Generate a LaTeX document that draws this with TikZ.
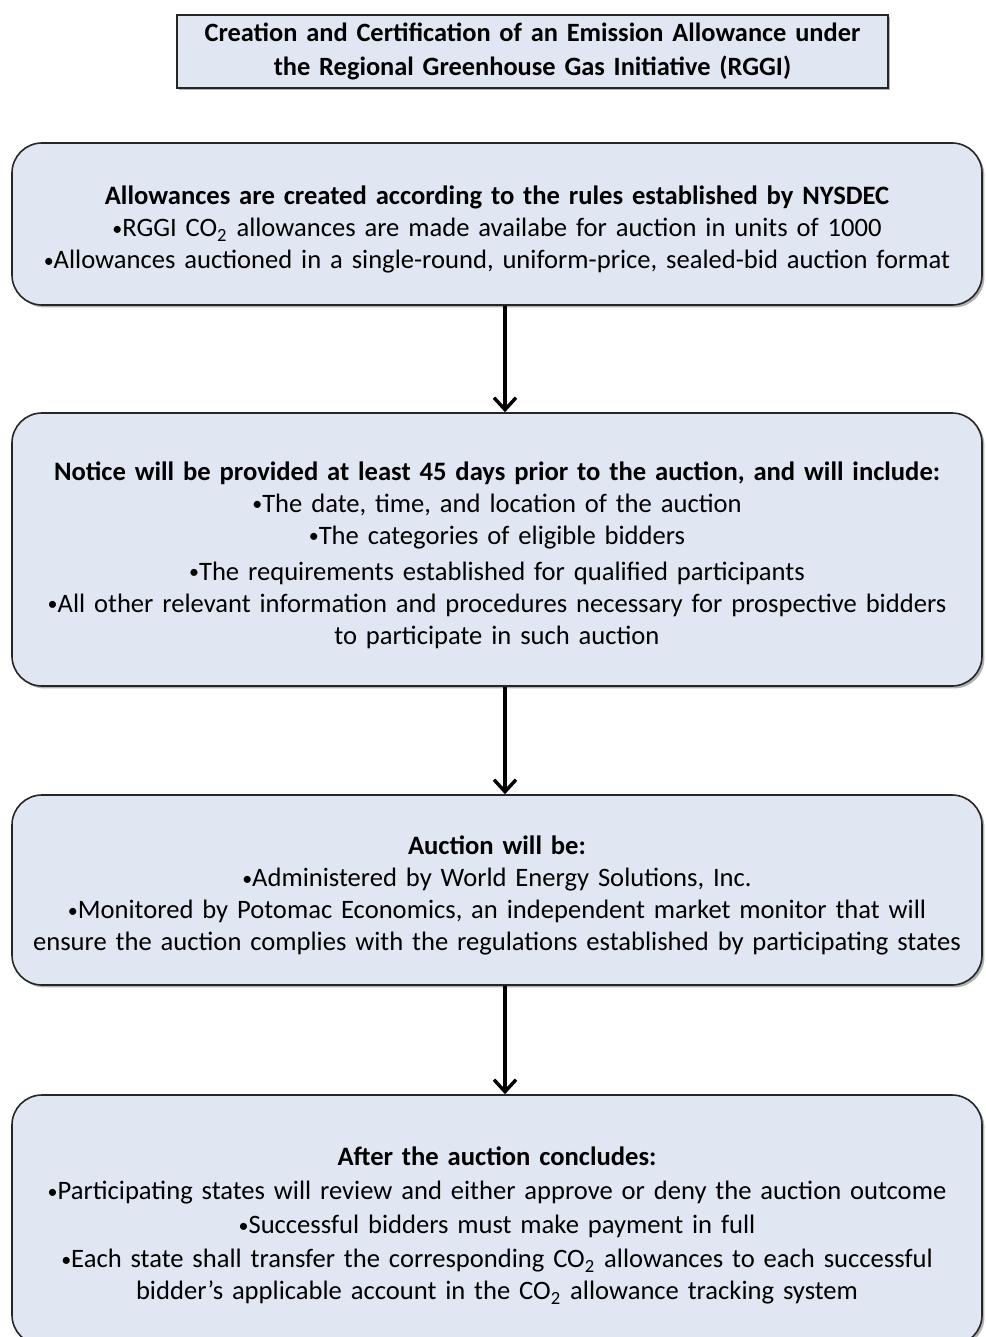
\documentclass[tikz,border=0pt]{standalone}
\usepackage{fontspec}
\setmainfont{Carlito}
\usetikzlibrary{arrows.meta,shadows}
\definecolor{boxfill}{RGB}{224,231,242}
\newcommand{\bulletmark}{\raisebox{0.12ex}{\scalebox{0.75}{•}}}

\begin{document}
\begin{tikzpicture}[x=0.5pt,y=-0.5pt,
	plain/.style={draw=black!85, line width=0.8pt, fill=boxfill, align=center, inner sep=0pt, drop shadow={shadow xshift=1.2pt, shadow yshift=-1.2pt, fill=black!60, opacity=0.5}},
	box/.style={plain, rounded corners=15pt, text width=484pt, minimum width=485pt, font=\fontsize{13.3}{16}\selectfont, execute at begin node={\rule{0pt}{15pt}}},
	titlebox/.style={plain, text width=352pt, minimum width=355.5pt, minimum height=36.5pt, font=\bfseries\fontsize{13.2}{17}\selectfont},
	arr/.style={line width=1.7pt, -{Straight Barb[length=6pt, width=11pt, line width=1.7pt]}}]
	\useasboundingbox (0,0) rectangle (985,1337);
	\node[titlebox] (title) at (532.5,51.5) {Creation and Certification of an Emission Allowance under\\ the Regional Greenhouse Gas Initiative (RGGI)};
	\node[box, minimum height=81pt] (create) at (497,224) {\textbf{Allowances are created according to the rules established by NYSDEC}\\
		\bulletmark RGGI CO\textsubscript{2} allowances are made availabe for auction in units of 1000\\
		\bulletmark Allowances auctioned in a single-round, uniform-price, sealed-bid auction format};
	\node[box, minimum height=136.5pt] (notice) at (497,549.5) {\textbf{Notice will be provided at least 45 days prior to the auction, and will include:}\\
		\bulletmark The date, time, and location of the auction\\
		\bulletmark The categories of eligible bidders\\[2pt]
		\bulletmark The requirements established for qualified participants\\
		\bulletmark All other relevant information and procedures necessary for prospective bidders\\
		to participate in such auction};
	\node[box, minimum height=95pt] (auction) at (497,890) {\textbf{Auction will be:}\\
		\bulletmark Administered by World Energy Solutions, Inc.\\
		\bulletmark Monitored by Potomac Economics, an independent market monitor that will\\
		ensure the auction complies with the regulations established by participating states};
	\node[box, minimum height=125pt] (after) at (497,1220) {\textbf{After the auction concludes:}\\[1pt]
		\bulletmark Participating states will review and either approve or deny the auction outcome\\[1pt]
		\bulletmark Successful bidders must make payment in full\\[1pt]
		\bulletmark Each state shall transfer the corresponding CO\textsubscript{2} allowances to each successful\\
		bidder's applicable account in the CO\textsubscript{2} allowance tracking system};
	\path[arr]
	([xshift=4pt]create.south) edge ([xshift=4pt]notice.north)
	([xshift=4pt]notice.south) edge ([xshift=4pt]auction.north)
	([xshift=4pt]auction.south) edge ([xshift=4pt]after.north);
\end{tikzpicture}
\end{document}
